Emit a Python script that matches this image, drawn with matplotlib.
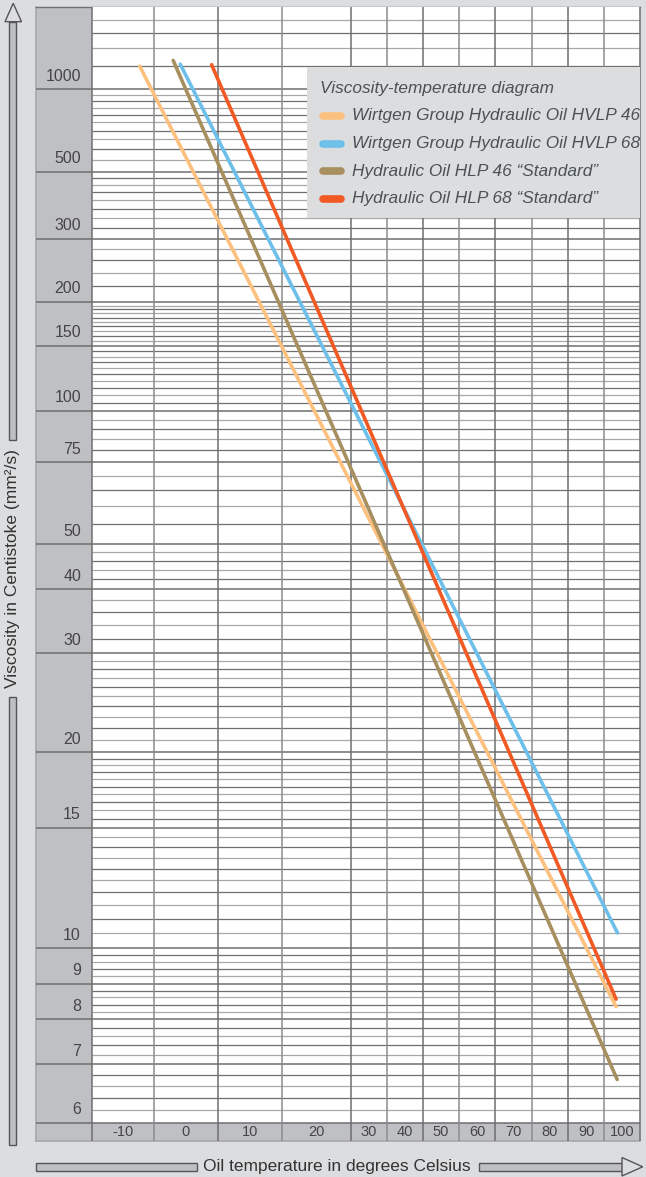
import numpy as np
import matplotlib
matplotlib.use("Agg")
import matplotlib.pyplot as plt
from matplotlib.patches import Rectangle, Polygon

plt.rcParams['font.family'] = ['Liberation Sans', 'DejaVu Sans']

# ---- values ----
series_names = ["Wirtgen Group Hydraulic Oil HVLP 46",
                "Wirtgen Group Hydraulic Oil HVLP 68",
                "Hydraulic Oil HLP 46 \u201cStandard\u201d",
                "Hydraulic Oil HLP 68 \u201cStandard\u201d"]
series_colors = ["#fdc17f", "#6ebfe9", "#a78f5f", "#f15a24"]

temp_hvlp46 = [-7.3, 98.3]
visc_hvlp46 = [1253, 8.34]
temp_hvlp68 = [-0.9, 98.7]
visc_hvlp68 = [1278, 10.5]
temp_hlp46 = [-2.0, 98.6]
visc_hlp46 = [1326, 6.72]
temp_hlp68 = [4.0, 98.3]
visc_hlp68 = [1271, 8.55]

temp_labels = [-10, 0, 10, 20, 30, 40, 50, 60, 70, 80, 90, 100]
temp_cell_edges = [-15, -5, 5, 15, 25, 35, 45, 55, 65, 75, 85, 95, 105]

visc_major = [1000, 500, 300, 200, 150, 100, 75, 50, 40, 30, 20, 15, 10, 9, 8, 7, 6]
visc_minor = [2000, 1750, 1500, 1250,
              950, 900, 850, 800, 750, 700, 650, 600, 550,
              475, 450, 425, 400, 375, 350, 325,
              280, 260, 240, 220,
              195, 190, 185, 180, 175, 170, 165, 160, 155,
              145, 140, 135, 130, 125, 120, 115, 110, 105,
              95, 90, 85, 80,
              70, 65, 60, 55,
              48, 46, 44, 42,
              38, 36, 34, 32,
              29, 28, 27, 26, 25, 24, 23, 22, 21,
              19.5, 19, 18.5, 18, 17.5, 17, 16.5, 16, 15.5,
              14.5, 14, 13.5, 13, 12.5, 12, 11.5, 11, 10.5,
              9.8, 9.6, 9.4, 9.2,
              8.8, 8.6, 8.4, 8.2,
              7.8, 7.6, 7.4, 7.2,
              6.8, 6.6, 6.4, 6.2]
visc_top = 2300

# ---- layout of the (hand drawn, uneven) scales, in pixels ----
W, H = 646, 1177
x_edges_px = np.array([92, 154, 218, 282, 350.7, 386.7, 423, 459, 495.3, 531.7, 568.3, 604.3, 640])
y_anchor_visc = np.array([6, 7, 8, 9, 10, 15, 20, 30, 40, 50, 75, 100, 150, 200, 300, 500, 1000, visc_top])
y_anchor_px = np.array([1122.7, 1064.3, 1019.3, 984, 948.3, 827.7, 752.3, 653.3, 589.3, 544.3,
                        462.3, 410.7, 346, 301.7, 238.7, 171.7, 89.3, 7.3])
plot_l, plot_r, plot_t, plot_b = 92, 640, 7.3, 1122.7
band_b = 1140.7
col_l = 36


def astm(v):
    # Ubbelohde / ASTM viscosity axis: log(log(v + 0.7))
    v = np.clip(np.asarray(v, dtype=float), 0.5, None)
    return np.log10(np.log10(v + 0.7))


Y_anchor = astm(y_anchor_visc)


def y_fwd(v):
    return np.interp(astm(v), Y_anchor, -y_anchor_px)


def y_inv(p):
    Y = np.interp(p, -y_anchor_px, Y_anchor)
    return 10 ** (10 ** Y) - 0.7


def x_fwd(t):
    return np.interp(t, temp_cell_edges, x_edges_px)


def x_inv(p):
    return np.interp(p, x_edges_px, temp_cell_edges)


bg_col = "#dcdddf"
panel_col = "#bfc0c4"
dark = "#6f6f6f"
light = "#a8a8a8"
txt = "#454545"

fig = plt.figure(figsize=(W / 100, H / 100), dpi=100, facecolor=bg_col)

# background decorations in pixel space
bg = fig.add_axes([0, 0, 1, 1], zorder=0)
bg.set_xlim(0, W)
bg.set_ylim(H, 0)
bg.axis('off')
bg.add_patch(Rectangle((col_l, plot_t), plot_l - col_l, band_b - plot_t, facecolor=panel_col, edgecolor='none'))
bg.add_patch(Rectangle((plot_l, plot_b), plot_r - plot_l, band_b - plot_b, facecolor=panel_col, edgecolor='none'))
bg.plot([col_l, col_l], [plot_t, band_b], color=light, lw=1.2)
bg.plot([col_l, plot_r], [band_b, band_b], color=light, lw=1.2)
bg.plot([col_l, plot_r], [plot_t, plot_t], color=dark, lw=1.0)

# vertical arrow (y axis)
arrow_kw = dict(facecolor=panel_col, edgecolor="#555555", lw=1.0)
bg.add_patch(Rectangle((9.3, 697), 7, 1145 - 697, **arrow_kw))
bg.add_patch(Rectangle((9.3, 21.7), 7, 440 - 21.7, **arrow_kw))
bg.add_patch(Polygon([[5, 21.7], [21.5, 21.7], [13.2, 3.3]], closed=True,
                     facecolor=bg_col, edgecolor="#555555", lw=1.0))
bg.text(13, 569, "Viscosity in Centistoke (mm\u00b2/s)", rotation=90, ha='center', va='center',
        fontsize=12.5, color="#333333")

# horizontal arrow (x axis)
bg.add_patch(Rectangle((36, 1162.7), 196.7 - 36, 8.3, **arrow_kw))
bg.add_patch(Rectangle((479.3, 1162.7), 622 - 479.3, 8.3, **arrow_kw))
bg.add_patch(Polygon([[622, 1157.5], [622, 1176], [642.7, 1166.8]], closed=True,
                     facecolor=bg_col, edgecolor="#555555", lw=1.0))
bg.text(337, 1166.5, "Oil temperature in degrees Celsius", ha='center', va='center',
        fontsize=12.5, color="#333333")

# main grid axes
ax = fig.add_axes([plot_l / W, 1 - plot_b / H, (plot_r - plot_l) / W, (plot_b - plot_t) / H], zorder=1)
ax.set_facecolor('white')
ax.set_xscale('function', functions=(x_fwd, x_inv))
ax.set_yscale('function', functions=(y_fwd, y_inv))
ax.set_xlim(temp_cell_edges[0], temp_cell_edges[-1])
ax.set_ylim(6, visc_top)
for s in ax.spines.values():
    s.set_visible(False)
ax.set_xticks([])
ax.set_yticks([])
ax.minorticks_off()

minor_cols = [light if i % 2 == 0 else dark for i in range(len(visc_minor))]
ax.hlines(visc_minor, temp_cell_edges[0], temp_cell_edges[-1], colors=minor_cols, lw=0.9, zorder=1)

ax_w = plot_r - plot_l
ax_h = plot_b - plot_t
ax.hlines(visc_major, (col_l - plot_l) / ax_w, 1, transform=ax.get_yaxis_transform(),
          colors=dark, lw=1.1, clip_on=False, zorder=2)
vcols = [dark if i % 2 == 0 else "#8c8c8c" for i in range(len(temp_cell_edges))]
ax.vlines(temp_cell_edges, -(band_b - plot_b) / ax_h, 1, transform=ax.get_xaxis_transform(),
          colors=vcols, lw=1.1, clip_on=False, zorder=2)

for v in visc_major:
    ax.annotate(str(v), xy=((81 - plot_l) / ax_w, v), xycoords=ax.get_yaxis_transform(),
                xytext=(0, 6.3), textcoords='offset points', ha='right', va='baseline',
                fontsize=11.5, color=txt, annotation_clip=False)
for t in temp_labels:
    ax.text(t, -(band_b - plot_b) / 2 / ax_h, str(t), transform=ax.get_xaxis_transform(),
            ha='center', va='center', fontsize=10.5, color=txt, clip_on=False)

series = [(temp_hvlp46, visc_hvlp46), (temp_hvlp68, visc_hvlp68),
          (temp_hlp46, visc_hlp46), (temp_hlp68, visc_hlp68)]
for (t, v), c, name in zip(series, series_colors, series_names):
    ax.plot(t, v, color=c, lw=2.6, solid_capstyle='round', label=name, zorder=4)

# legend box drawn by hand on top
top = fig.add_axes([0, 0, 1, 1], zorder=3)
top.set_xlim(0, W)
top.set_ylim(H, 0)
top.axis('off')
top.patch.set_alpha(0)
top.add_patch(Rectangle((307.3, 66.7), plot_r - 307.3, 218.3 - 66.7, facecolor=bg_col, edgecolor='none'))
leg_col = "#4b5257"
top.text(320, 88, "Viscosity-temperature diagram", style='italic', fontsize=12.4,
         color=leg_col, ha='left', va='center')
for i, (name, c) in enumerate(zip(series_names, series_colors)):
    yy = 115.8 + i * 27.7
    top.plot([322.5, 340.5], [yy, yy], color=c, lw=5.5, solid_capstyle='round')
    top.text(351.7, yy, name, style='italic', fontsize=12.4, color=leg_col, ha='left', va='center')

fig.savefig("out.png", dpi=100, facecolor=bg_col)
